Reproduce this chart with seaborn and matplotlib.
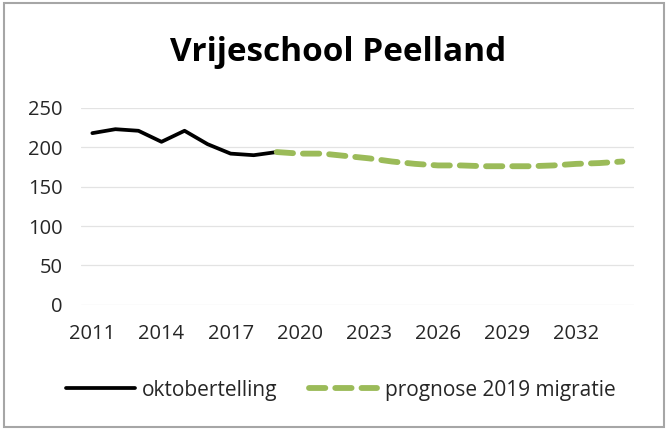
import numpy as np
import pandas as pd
import matplotlib
matplotlib.use("Agg")
import matplotlib.pyplot as plt
import matplotlib.patches as mpatches
import seaborn as sns

# data
jaren_telling = [2011, 2012, 2013, 2014, 2015, 2016, 2017, 2018, 2019]
oktobertelling = [218, 223, 221, 207, 221, 204, 192, 190, 194]

jaren_prognose = [2019, 2020, 2021, 2022, 2023, 2024, 2025, 2026, 2027,
                  2028, 2029, 2030, 2031, 2032, 2033, 2034]
prognose = [194, 192, 192, 189, 186, 182, 179, 177, 177,
            176, 176, 176, 177, 179, 180, 182]

x_ticks = [2011, 2014, 2017, 2020, 2023, 2026, 2029, 2032]
y_ticks = [0, 50, 100, 150, 200, 250]

titel = "Vrijeschool Peelland"
label_telling = "oktobertelling"
label_prognose = "prognose 2019 migratie"

groen = "#9bbb59"

sns.set_theme(style="white")
plt.rcParams["font.family"] = ["Open Sans", "DejaVu Sans"]

df_telling = pd.DataFrame({"jaar": jaren_telling, "leerlingen": oktobertelling})
df_prognose = pd.DataFrame({"jaar": jaren_prognose, "leerlingen": prognose})

fig = plt.figure(figsize=(6.68, 4.30), dpi=100)
ax = fig.add_axes([0.121, 0.291, 0.828, 0.458])

sns.lineplot(data=df_telling, x="jaar", y="leerlingen", ax=ax, color="black",
             linewidth=2.7, label=label_telling)
sns.lineplot(data=df_prognose, x="jaar", y="leerlingen", ax=ax, color=groen,
             linewidth=4.2, label=label_prognose)
ax.lines[1].set_dashes((2.8, 1.7))
ax.lines[1].set_dash_capstyle("round")

ax.set_xlim(2010.5, 2034.5)
ax.set_ylim(0, 250)
ax.set_xticks(x_ticks)
ax.set_yticks(y_ticks)
ax.set_xlabel("")
ax.set_ylabel("")
ax.tick_params(axis="both", length=0, labelsize=14.5, colors="#262626")
ax.tick_params(axis="y", pad=13)
ax.tick_params(axis="x", pad=14)
ax.grid(axis="y", color="#e3e3e3", linewidth=0.9)
ax.set_axisbelow(True)
for s in ax.spines.values():
    s.set_visible(False)

handles, labels = ax.get_legend_handles_labels()
ax.get_legend().remove()
leg = fig.legend(handles, labels, loc="center", bbox_to_anchor=(0.51, 0.093),
                 ncol=2, frameon=False, fontsize=15, handlelength=3.3,
                 handletextpad=0.35, columnspacing=1.5)
for t in leg.get_texts():
    t.set_color("#262626")

fig.text(0.506, 0.879, titel, ha="center", va="center", fontsize=24,
         fontweight="bold", color="black")

fig.patches.append(mpatches.Rectangle((0.006, 0.008), 0.988, 0.984,
                                      transform=fig.transFigure, fill=False,
                                      edgecolor="#a6a6a6", linewidth=1.5))

fig.savefig("out.png", dpi=100)
